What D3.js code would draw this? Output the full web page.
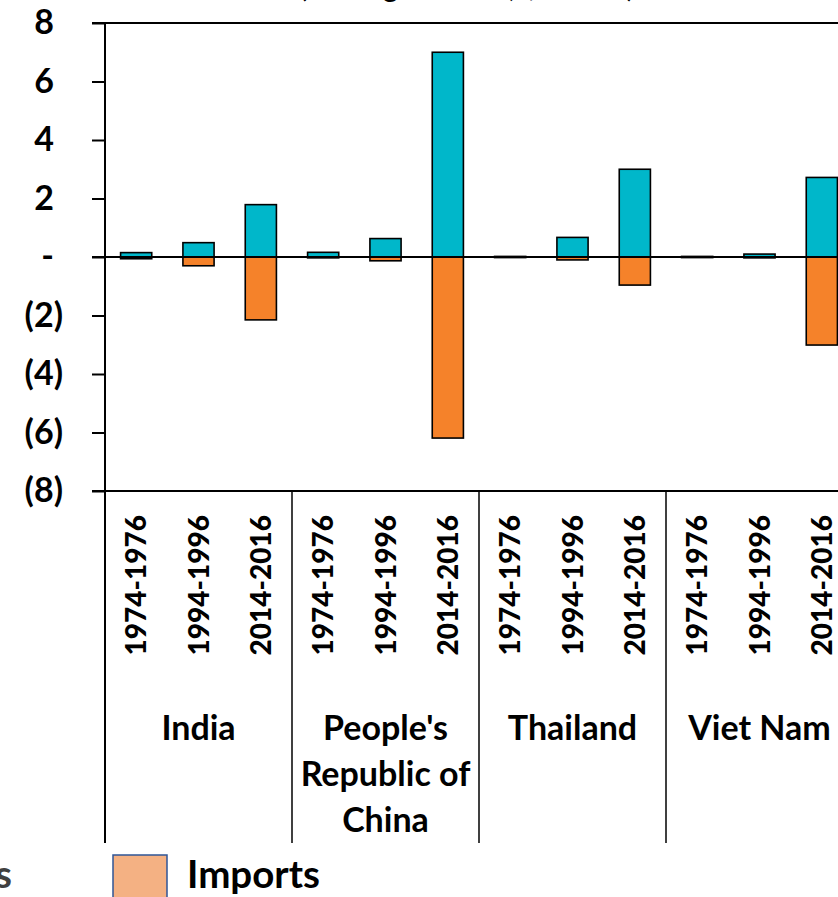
<!DOCTYPE html>
<html>
<head>
<meta charset="utf-8">
<style>
    body {
        margin: 0;
        font-family: Lato, "Open Sans", sans-serif;
        background: #fff;
    }
    svg {
        display: block;
    }
    .axis text {
        font-family: Lato, "Open Sans", sans-serif;
        font-size: 34px;
        font-weight: bold;
        fill: #000;
    }
    .axis path {
        display: none;
    }
    .axis line,
    .frame-line {
        stroke: #000;
        stroke-width: 2px;
    }
    .bar {
        stroke: #000;
        stroke-width: 1.6px;
    }
    .period-label {
        font-size: 28px;
        font-weight: 900;
    }
    .country-label {
        font-size: 34px;
        font-weight: bold;
        text-anchor: middle;
    }
    .legend-label {
        font-size: 38.5px;
        font-weight: bold;
    }
</style>
</head>
<body>
<script src="https://cdn.jsdelivr.net/npm/d3@7"></script>
<script>

    // data
    var countries = ["India", "People's Republic of China", "Thailand", "Viet Nam"];
    var countryLines = [["India"], ["People's", "Republic of", "China"], ["Thailand"], ["Viet Nam"]];
    var periods = ["1974-1976", "1994-1996", "2014-2016"];

    // one value per country x period, in the order of countries then periods
    var exportsValues = [0.15, 0.49, 1.79,  0.16, 0.63, 7.00,  0.02, 0.67, 3.00,  0.02, 0.10, 2.72];
    var importsValues = [-0.06, -0.30, -2.15,  -0.03, -0.13, -6.19,  -0.02, -0.10, -0.96,  -0.02, -0.03, -3.01];

    var yTicks = [-8, -6, -4, -2, 0, 2, 4, 6, 8];

    var seriesNames = ["Exports", "Imports"];
    var barColors = ["#00B7CA", "#F5822A"];
    var legendColors = ["#7FD8E2", "#F4B183"];

    var width = 838,
        height = 897,
        plotLeft = 105,
        plotTop = 23,
        plotBottom = 491,
        groupWidth = 187,
        plotRight = plotLeft + groupWidth * countries.length,
        labelBottom = 843,
        tickLength = 13;

    var rows = [];
    countries.forEach(function(c, i) {
        periods.forEach(function(p, j) {
            var k = i * periods.length + j;
            rows.push({country: c, period: p, exports: exportsValues[k], imports: importsValues[k]});
        });
    });

    var svg = d3.select("body").append("svg")
        .attr("width", width)
        .attr("height", height);

    var x0 = d3.scaleBand()
        .domain(countries)
        .range([plotLeft, plotRight]);

    var x1 = d3.scaleBand()
        .domain(periods)
        .range([0, groupWidth])
        .paddingInner(0.5)
        .paddingOuter(0.25);

    var y = d3.scaleLinear()
        .domain([-8, 8])
        .range([plotBottom, plotTop]);

    // title, mostly cut off at the top of the picture
    svg.append("text")
        .attr("x", 467)
        .attr("y", -3)
        .attr("text-anchor", "middle")
        .style("font-size", "30px")
        .text("(Average annual, $ billion)");

    // bars
    var barGroup = svg.append("g");

    barGroup.selectAll("rect.exports")
        .data(rows)
      .enter().append("rect")
        .attr("class", "bar exports")
        .attr("x", function(d) {return x0(d.country) + x1(d.period)})
        .attr("y", function(d) {return y(d.exports)})
        .attr("width", x1.bandwidth())
        .attr("height", function(d) {return y(0) - y(d.exports)})
        .attr("fill", barColors[0]);

    barGroup.selectAll("rect.imports")
        .data(rows)
      .enter().append("rect")
        .attr("class", "bar imports")
        .attr("x", function(d) {return x0(d.country) + x1(d.period)})
        .attr("y", y(0))
        .attr("width", x1.bandwidth())
        .attr("height", function(d) {return y(d.imports) - y(0)})
        .attr("fill", barColors[1]);

    // horizontal lines: top, zero, bottom
    svg.append("g").selectAll("line")
        .data([8, 0, -8])
      .enter().append("line")
        .attr("class", "frame-line")
        .attr("x1", plotLeft - tickLength)
        .attr("x2", plotRight)
        .attr("y1", function(d) {return y(d)})
        .attr("y2", function(d) {return y(d)});

    // y axis
    var yAxis = d3.axisLeft(y)
        .tickValues(yTicks)
        .tickSize(tickLength)
        .tickPadding(29)
        .tickFormat(function(d) {
            if (d === 0) return "-";
            return d < 0 ? "(" + (-d) + ")" : d;
        });

    var yAxisG = svg.append("g")
        .attr("class", "axis")
        .attr("transform", "translate(" + plotLeft + ",0)")
        .call(yAxis);

    yAxisG.selectAll("text")
        .attr("dx", function(d) {return d >= 0 ? -9 : 0});

    // vertical axis line and group separators running down through the labels
    svg.append("g").selectAll("line")
        .data(countries)
      .enter().append("line")
        .attr("class", "frame-line")
        .attr("x1", function(d) {return x0(d)})
        .attr("x2", function(d) {return x0(d)})
        .attr("y1", function(d, i) {return i === 0 ? plotTop : plotBottom})
        .attr("y2", labelBottom)
        .style("stroke-width", function(d, i) {return i === 0 ? 2 : 1.5});

    // period labels
    svg.append("g").selectAll("text")
        .data(rows)
      .enter().append("text")
        .attr("class", "period-label")
        .attr("text-anchor", "end")
        .attr("dy", "0.36em")
        .attr("transform", function(d) {
            var cx = x0(d.country) + x1(d.period) + x1.bandwidth() / 2;
            return "translate(" + cx + "," + (plotBottom + 24) + ") rotate(-90)";
        })
        .text(function(d) {return d.period});

    // country labels
    var countryLabel = svg.append("g").selectAll("text")
        .data(countries)
      .enter().append("text")
        .attr("class", "country-label")
        .attr("x", function(d) {return x0(d) + x0.bandwidth() / 2})
        .attr("y", 740);

    countryLabel.selectAll("tspan")
        .data(function(d, i) {return countryLines[i]})
      .enter().append("tspan")
        .attr("x", function() {return d3.select(this.parentNode).attr("x")})
        .attr("dy", function(d, i) {return i === 0 ? 0 : 46})
        .text(function(d) {return d});

    // legend, cut off at the bottom and left of the picture
    var legendX = [-267, 113];
    var legend = svg.append("g").selectAll("g")
        .data(seriesNames)
      .enter().append("g")
        .attr("transform", function(d, i) {return "translate(" + legendX[i] + ",855)"});

    legend.append("rect")
        .attr("width", 54)
        .attr("height", 60)
        .attr("fill", function(d, i) {return legendColors[i]})
        .attr("stroke", "#2F5597")
        .attr("stroke-width", 1.5);

    legend.append("text")
        .attr("class", "legend-label")
        .attr("x", function(d, i) {return i === 0 ? 279 : 74})
        .attr("y", 33)
        .attr("text-anchor", function(d, i) {return i === 0 ? "end" : "start"})
        .attr("fill", function(d, i) {return i === 0 ? "#404040" : "#000"})
        .text(function(d) {return d});
</script>
</body>
</html>
